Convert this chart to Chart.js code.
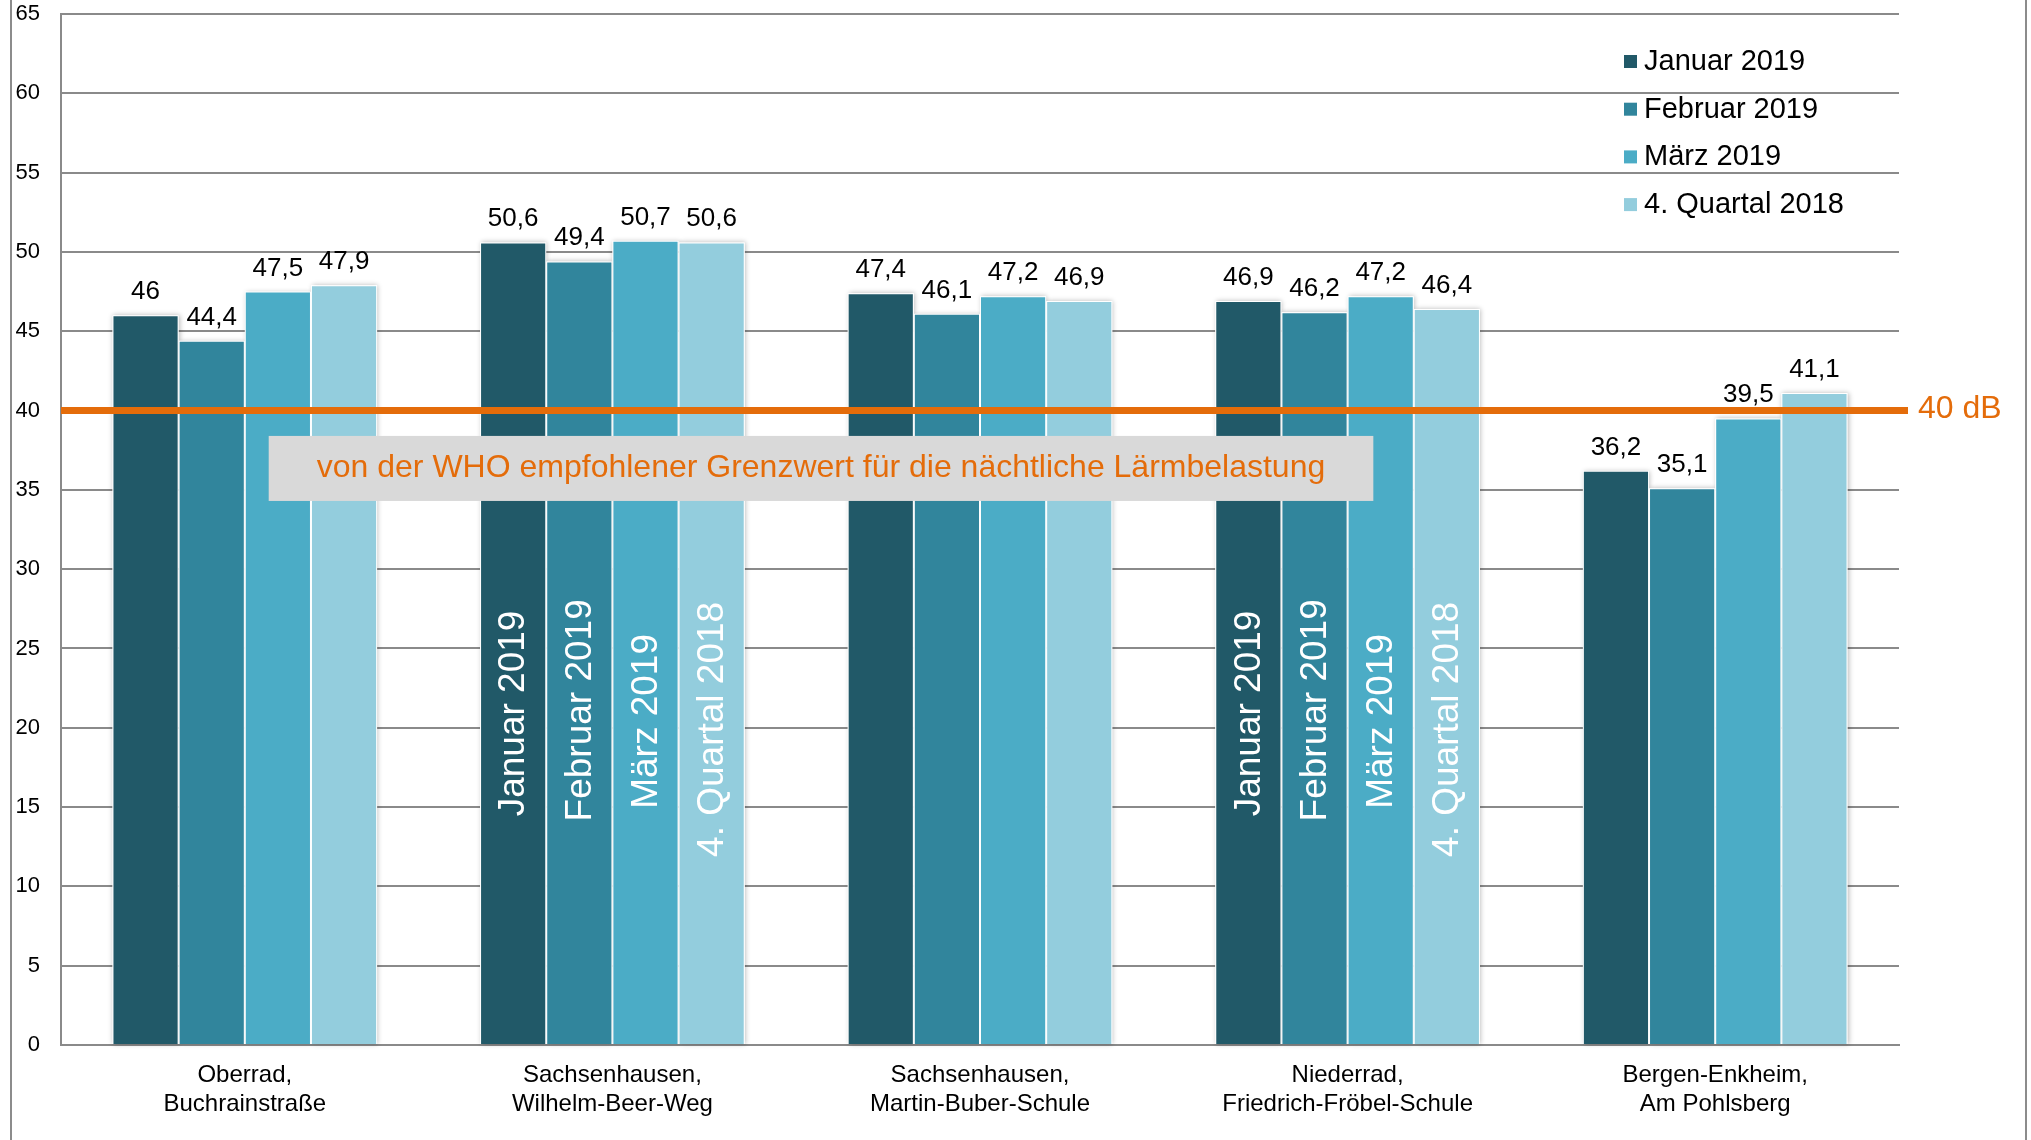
<!DOCTYPE html>
<html lang="de">
<head>
<meta charset="utf-8">
<title>Nächtliche Lärmbelastung</title>
<script src="https://cdn.jsdelivr.net/npm/chart.js@4.4.1/dist/chart.umd.min.js"></script>
<style>
  html, body { margin: 0; padding: 0; background: #fff; }
  #chart { display: block; }
</style>
</head>
<body>
<canvas id="chart" width="2031" height="1140"></canvas>
<script>
// ---- data ----
const stations = [
    ['Oberrad,', 'Buchrainstraße'],
    ['Sachsenhausen,', 'Wilhelm-Beer-Weg'],
    ['Sachsenhausen,', 'Martin-Buber-Schule'],
    ['Niederrad,', 'Friedrich-Fröbel-Schule'],
    ['Bergen-Enkheim,', 'Am Pohlsberg']
];
const seriesNames = ['Januar 2019', 'Februar 2019', 'März 2019', '4. Quartal 2018'];
const januar  = [46.0, 50.6, 47.4, 46.9, 36.2];
const februar = [44.4, 49.4, 46.1, 46.2, 35.1];
const maerz   = [47.5, 50.7, 47.2, 47.2, 39.5];
const quartal = [47.9, 50.6, 46.9, 46.4, 41.1];
const yMin = 0, yMax = 65, yStep = 5;
const whoLimit = 40;
const whoLabel = '40 dB';
const whoText = 'von der WHO empfohlener Grenzwert für die nächtliche Lärmbelastung';
const insideLabelGroups = [1, 3];

const colors = ['#215968', '#31859C', '#4BACC6', '#93CDDD'];
const ORANGE = '#E46C0A';
const GRID = '#8a8a8a';
const FONT = "'Liberation Sans', Arial, sans-serif";

const fmt = v => String(v).replace('.', ',');

// outer frame lines left/right
const framePlugin = {
    id: 'frame',
    beforeDraw(chart) {
        const ctx = chart.ctx;
        ctx.save();
        ctx.strokeStyle = '#8c8c8c';
        ctx.lineWidth = 2;
        ctx.beginPath();
        ctx.moveTo(11, 0); ctx.lineTo(11, chart.height);
        ctx.moveTo(chart.width - 5, 0); ctx.lineTo(chart.width - 5, chart.height);
        ctx.stroke();
        ctx.restore();
    }
};

// soft shadow behind the bars
const barShadow = {
    id: 'barShadow',
    beforeDatasetsDraw(chart) {
        const ctx = chart.ctx;
        ctx.save();
        ctx.shadowColor = 'rgba(0,0,0,0.28)';
        ctx.shadowBlur = 5;
        ctx.shadowOffsetX = 1;
        ctx.fillStyle = '#fff';
        chart.data.datasets.forEach((ds, i) => {
            chart.getDatasetMeta(i).data.forEach(bar => {
                const p = bar.getProps(['x', 'y', 'base', 'width'], true);
                ctx.fillRect(p.x - p.width / 2, p.y, p.width, p.base - p.y);
            });
        });
        ctx.restore();
    }
};

// WHO line, grey note box, rotated labels, value labels
const overlay = {
    id: 'overlay',
    afterDatasetsDraw(chart, args, opts) {
        const { ctx, chartArea, scales: { x, y } } = chart;

        // rotated series names inside two groups
        ctx.save();
        ctx.fillStyle = '#fff';
        ctx.font = `37px ${FONT}`;
        ctx.textAlign = 'center';
        ctx.textBaseline = 'middle';
        chart.data.datasets.forEach((ds, i) => {
            const meta = chart.getDatasetMeta(i);
            insideLabelGroups.forEach(g => {
                const bar = meta.data[g];
                ctx.save();
                ctx.translate(bar.x, y.getPixelForValue(opts.insideCenters[i]));
                ctx.rotate(-Math.PI / 2);
                ctx.fillText(ds.label, 0, 1);
                ctx.restore();
            });
        });
        ctx.restore();

        // WHO limit line
        const ly = y.getPixelForValue(whoLimit);
        ctx.save();
        ctx.strokeStyle = ORANGE;
        ctx.lineWidth = 7;
        ctx.beginPath();
        ctx.moveTo(chartArea.left, ly);
        ctx.lineTo(chartArea.right + 9, ly);
        ctx.stroke();
        ctx.fillStyle = ORANGE;
        ctx.font = `32px ${FONT}`;
        ctx.textBaseline = 'middle';
        ctx.textAlign = 'left';
        ctx.fillText(whoLabel, chartArea.right + 19, ly - 1);

        // grey note box
        const step = x.getPixelForValue(1) - x.getPixelForValue(0);
        const bx0 = x.getPixelForValue(0) + opts.box.from * step;
        const bx1 = x.getPixelForValue(0) + opts.box.to * step;
        const by0 = y.getPixelForValue(opts.box.top);
        const by1 = y.getPixelForValue(opts.box.bottom);
        ctx.fillStyle = '#D9D9D9';
        ctx.fillRect(bx0, by0, bx1 - bx0, by1 - by0);
        ctx.fillStyle = ORANGE;
        ctx.textAlign = 'center';
        ctx.fillText(whoText, (bx0 + bx1) / 2, (by0 + by1) / 2);
        ctx.restore();

        // value labels above bars
        ctx.save();
        ctx.fillStyle = '#000';
        ctx.font = `26px ${FONT}`;
        ctx.textAlign = 'center';
        ctx.textBaseline = 'alphabetic';
        chart.data.datasets.forEach((ds, i) => {
            chart.getDatasetMeta(i).data.forEach((bar, j) => {
                ctx.fillText(fmt(ds.data[j]), bar.x, bar.y - 16);
            });
        });
        ctx.restore();
    },
    afterDraw(chart) {
        // legend, top right inside the plot
        const { ctx, chartArea } = chart;
        ctx.save();
        ctx.font = `29px ${FONT}`;
        ctx.textBaseline = 'middle';
        ctx.textAlign = 'left';
        chart.data.datasets.forEach((ds, i) => {
            const cy = chartArea.top + 47 + i * 47.7;
            const mx = chartArea.right - 275;
            ctx.fillStyle = ds.backgroundColor;
            ctx.fillRect(mx, cy - 6, 13, 13);
            ctx.fillStyle = '#000';
            ctx.fillText(ds.label, mx + 20, cy + 1);
        });
        ctx.restore();
    }
};

const seriesValues = [januar, februar, maerz, quartal];

new Chart(document.getElementById('chart'), {
    type: 'bar',
    data: {
        labels: stations,
        datasets: seriesValues.map((vals, i) => ({
            label: seriesNames[i],
            data: vals,
            backgroundColor: colors[i],
            borderColor: '#fff',
            borderWidth: 1,
            categoryPercentage: 0.72,
            barPercentage: 1
        }))
    },
    options: {
        responsive: false,
        animation: false,
        layout: { padding: { top: 14, right: 132, bottom: 0, left: 0 } },
        scales: {
            x: {
                grid: { display: false },
                border: { display: true, color: GRID, width: 2 },
                ticks: {
                    color: '#000',
                    font: { family: FONT, size: 24, lineHeight: 1.2 },
                    padding: 8,
                    maxRotation: 0,
                    autoSkip: false
                },
                afterFit: s => { s.height = 95; }
            },
            y: {
                min: yMin,
                max: yMax,
                grid: { color: GRID, lineWidth: 2, drawTicks: false },
                border: { display: true, color: GRID, width: 2 },
                ticks: {
                    stepSize: yStep,
                    color: '#000',
                    font: { family: FONT, size: 22 },
                    padding: 21
                },
                afterFit: s => {
                    s.width = 61;
                    s.paddingTop = 0;
                    s.paddingBottom = 0;
                }
            }
        },
        plugins: {
            legend: { display: false },
            tooltip: { enabled: false },
            overlay: {
                insideCenters: [20.9, 21.1, 20.4, 19.9],
                box: { from: 0.065, to: 3.07, top: 38.4, bottom: 34.3 }
            }
        }
    },
    plugins: [framePlugin, barShadow, overlay]
});
</script>
</body>
</html>
